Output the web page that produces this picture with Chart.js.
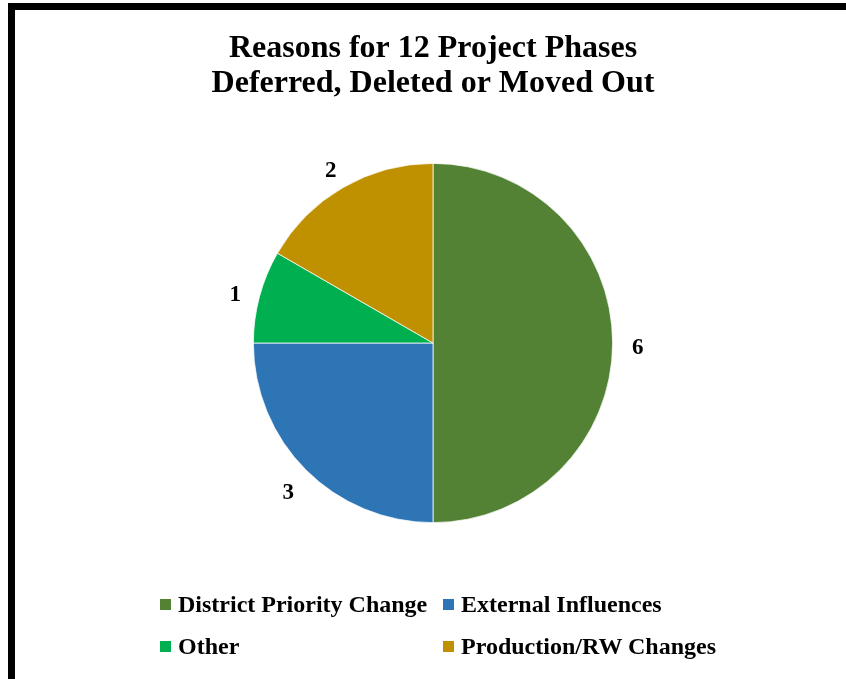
<!DOCTYPE html>
<html>
<head>
<meta charset="utf-8">
<script src="https://cdn.jsdelivr.net/npm/chart.js@4/dist/chart.umd.min.js"></script>
<style>
    html, body { margin: 0; padding: 0; background: #fff; }
    #wrap { position: relative; width: 846px; height: 679px; overflow: hidden; }
    #frame {
        position: absolute; left: 8px; top: 3px; width: 860px; height: 690px;
        border: 7px solid #000; box-sizing: border-box; pointer-events: none;
    }
    canvas { position: absolute; left: 0; top: 0; }
    #legend {
        position: absolute; left: 160px; top: 583px;
        display: grid; grid-template-columns: 283px auto; grid-auto-rows: 42px;
        font: bold 24px "Liberation Serif", "Times New Roman", serif; color: #000;
    }
    #legend div { display: flex; align-items: center; white-space: nowrap; }
    #legend span.box { width: 11px; height: 11px; margin-right: 7px; display: inline-block; }
</style>
</head>
<body>
<div id="wrap">
    <canvas id="pieChart" width="846" height="679"></canvas>
    <div id="legend"></div>
    <div id="frame"></div>
</div>
<script>
const categories = ["District Priority Change", "External Influences", "Other", "Production/RW Changes"];
const phaseCounts = [6, 3, 1, 2];
const sliceColors = ["#548235", "#2E75B6", "#00B050", "#BF9000"];
const titleLines = ["Reasons for 12 Project Phases", "Deferred, Deleted or Moved Out"];

const serif = "'Liberation Serif', 'Times New Roman', serif";

// Draw value labels just outside each slice
const outsideLabels = {
    id: "outsideLabels",
    afterDatasetsDraw(chart) {
        const ctx = chart.ctx;
        const meta = chart.getDatasetMeta(0);
        ctx.save();
        ctx.font = "bold 23px " + serif;
        ctx.fillStyle = "#000";
        ctx.textAlign = "center";
        ctx.textBaseline = "middle";
        meta.data.forEach((arc, i) => {
            const p = arc.getProps(["x", "y", "startAngle", "endAngle", "outerRadius"], true);
            const mid = (p.startAngle + p.endAngle) / 2;
            const r = p.outerRadius + 25;
            ctx.fillText(String(phaseCounts[i]), p.x + Math.cos(mid) * r, p.y + Math.sin(mid) * r + 5);
        });
        ctx.restore();
    }
};

const ctx = document.getElementById("pieChart").getContext("2d");
new Chart(ctx, {
    type: "pie",
    data: {
        labels: categories,
        datasets: [{
            data: phaseCounts,
            backgroundColor: sliceColors,
            borderColor: "#ffffff",
            borderWidth: 0.75
        }]
    },
    options: {
        responsive: false,
        animation: false,
        layout: {
            // wide chart area centred on x=433 so the title is not squeezed
            padding: { top: 31, left: 20, right: 0, bottom: 156 }
        },
        plugins: {
            legend: { display: false },
            tooltip: { enabled: false },
            title: {
                display: true,
                text: titleLines,
                color: "#000",
                font: { family: serif, size: 32, weight: "bold", lineHeight: 35 / 32 },
                padding: { top: 0, bottom: 62 }
            }
        }
    },
    plugins: [outsideLabels]
});

// Legend in two aligned columns
const legend = document.getElementById("legend");
categories.forEach((name, i) => {
    const item = document.createElement("div");
    const box = document.createElement("span");
    box.className = "box";
    box.style.background = sliceColors[i];
    item.appendChild(box);
    item.appendChild(document.createTextNode(name));
    legend.appendChild(item);
});
</script>
</body>
</html>
